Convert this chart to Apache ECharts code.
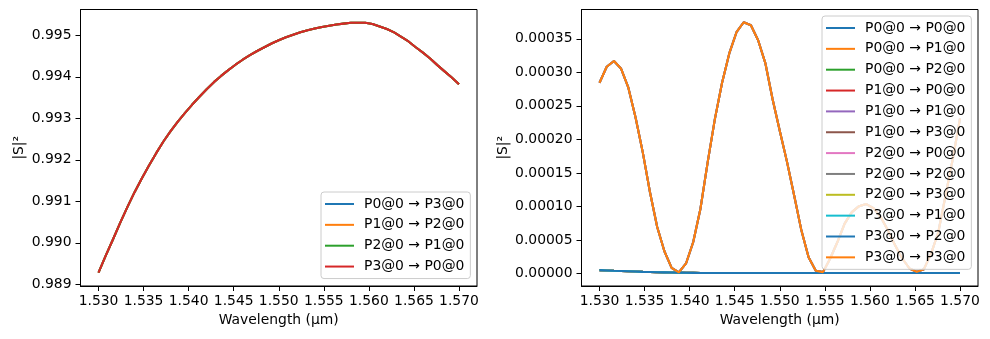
<!DOCTYPE html>
<html><head><meta charset="utf-8">
<script src="https://cdn.jsdelivr.net/npm/echarts@6/dist/echarts.min.js"></script>
<style>html,body{margin:0;padding:0;background:#fff}#c{width:990px;height:339px}</style>
</head><body><div id="c"></div><script>
const wavelengths = [1.5300,1.5308,1.5316,1.5324,1.5332,1.5340,1.5348,1.5356,1.5364,1.5372,
  1.5380,1.5388,1.5396,1.5404,1.5412,1.5420,1.5428,1.5436,1.5444,1.5452,
  1.5460,1.5468,1.5476,1.5484,1.5492,1.5500,1.5508,1.5516,1.5524,1.5532,
  1.5540,1.5548,1.5556,1.5564,1.5572,1.5580,1.5588,1.5596,1.5604,1.5612,
  1.5620,1.5628,1.5636,1.5644,1.5652,1.5660,1.5668,1.5676,1.5684,1.5692,1.5700];
const transmission = [0.98928,0.98969,0.99008,0.99048,0.99086,0.99122,0.99155,0.99186,0.99216,0.99244,
  0.99269,0.99292,0.99313,0.99333,0.99352,0.99370,0.99387,0.99402,0.99416,0.99429,
  0.99441,0.99452,0.99462,0.99471,0.99480,0.99488,0.99495,0.99501,0.99507,0.99512,
  0.99516,0.99520,0.99523,0.99526,0.99528,0.99530,0.99530,0.99530,0.99527,0.99521,
  0.99515,0.99507,0.99496,0.99485,0.99471,0.99458,0.99444,0.99428,0.99413,0.99398,0.99382];
const reflection = [0.0002845,0.0003083,0.0003168,0.0003053,0.0002771,0.0002326,0.0001806,0.0001212,0.0000692,0.0000331,
  0.0000083,0.0000015,0.0000149,0.0000469,0.0000965,0.0001657,0.0002302,0.0002845,0.0003282,0.0003598,
  0.0003747,0.0003702,0.0003479,0.0003138,0.0002603,0.0002128,0.0001668,0.0001163,0.0000643,0.0000242,
  0.0000042,0.0000020,0.0000223,0.0000469,0.0000743,0.0000915,0.0001004,0.0001035,0.0000974,0.0000841,
  0.0000643,0.0000420,0.0000223,0.0000074,0.0000024,0.0000064,0.0000297,0.0000618,0.0001163,0.0001708,0.0002310];
const crosstalk = [0.0000050,0.0000045,0.0000040,0.0000036,0.0000032,0.0000028,0.0000024,0.0000021,0.0000018,0.0000016,
  0.0000014,0.0000012,0.0000010,0.0000009,0.0000008,0.0000008,0.0000007,0.0000007,0.0000007,0.0000006,
  0.0000006,0.0000006,0.0000006,0.0000006,0.0000006,0.0000006,0.0000006,0.0000006,0.0000006,0.0000006,
  0.0000006,0.0000006,0.0000006,0.0000006,0.0000006,0.0000006,0.0000006,0.0000006,0.0000006,0.0000006,
  0.0000006,0.0000006,0.0000006,0.0000006,0.0000006,0.0000006,0.0000006,0.0000006,0.0000006,0.0000006,0.0000006];
const xTicks = [1.530,1.535,1.540,1.545,1.550,1.555,1.560,1.565,1.570];
const yTicksLeft = [0.989,0.990,0.991,0.992,0.993,0.994,0.995];
const yTicksRight = [0,0.00005,0.00010,0.00015,0.00020,0.00025,0.00030,0.00035];
const leftNames = ['P0@0 → P3@0','P1@0 → P2@0','P2@0 → P1@0','P3@0 → P0@0'];
const rightNames = ['P0@0 → P0@0','P0@0 → P1@0','P0@0 → P2@0','P1@0 → P0@0','P1@0 → P1@0','P1@0 → P3@0',
  'P2@0 → P0@0','P2@0 → P2@0','P2@0 → P3@0','P3@0 → P1@0','P3@0 → P2@0','P3@0 → P3@0'];
const rightSource = [reflection,crosstalk,crosstalk,crosstalk,reflection,crosstalk,
  crosstalk,reflection,crosstalk,crosstalk,crosstalk,reflection];
const palette = ['#1f77b4','#ff7f0e','#2ca02c','#d62728','#9467bd','#8c564b','#e377c2','#7f7f7f','#bcbd22','#17becf'];

const FONT = 'DejaVu Sans';
const FS = 13.9;
const pairs = arr => wavelengths.map((w, i) => [w, arr[i]]);

function xAxis(gi) {
  return {
    gridIndex: gi, type: 'value', min: 1.528, max: 1.572,
    axisLine: {show: true, onZero: false, lineStyle: {color: '#000', width: 1}},
    axisTick: {show: true, customValues: xTicks, length: 5, lineStyle: {color: '#000', width: 1}},
    axisLabel: {customValues: xTicks, formatter: v => v.toFixed(3), margin: 8, color: '#000', fontSize: FS, fontFamily: FONT},
    splitLine: {show: false},
    name: 'Wavelength (µm)', nameLocation: 'middle', nameGap: 27,
    nameTextStyle: {color: '#000', fontSize: FS, fontFamily: FONT}
  };
}
function yAxis(gi, min, max, ticks, dec, gap) {
  return {
    gridIndex: gi, type: 'value', min: min, max: max,
    axisLine: {show: true, onZero: false, lineStyle: {color: '#000', width: 1}},
    axisTick: {show: true, customValues: ticks, length: 5, lineStyle: {color: '#000', width: 1}},
    axisLabel: {customValues: ticks, formatter: v => v.toFixed(dec), margin: 9, color: '#000', fontSize: FS, fontFamily: FONT},
    splitLine: {show: false},
    name: '|S|²', nameLocation: 'middle', nameRotate: 90, nameGap: gap,
    nameTextStyle: {color: '#000', fontSize: FS, fontFamily: FONT}
  };
}
function legend(names, left, top) {
  return {
    data: names, orient: 'vertical', left: left, top: top,
    icon: 'rect', itemWidth: 29, itemHeight: 2, itemGap: 4.85,
    padding: [4, 6, 4, 4],
    backgroundColor: 'rgba(255,255,255,0.8)', borderColor: '#cccccc', borderWidth: 1, borderRadius: 3,
    textStyle: {fontSize: FS, fontFamily: FONT, color: '#000', lineHeight: 16, padding: [0, 0, 0, 5]}
  };
}
const series = [];
leftNames.forEach((n, k) => series.push({
  name: n, type: 'line', xAxisIndex: 0, yAxisIndex: 0, data: pairs(transmission),
  symbol: 'none', showSymbol: false, color: palette[k], lineStyle: {width: 2.08, color: palette[k]}
}));
rightNames.forEach((n, k) => series.push({
  name: n, type: 'line', xAxisIndex: 1, yAxisIndex: 1, data: pairs(rightSource[k]),
  symbol: 'none', showSymbol: false, color: palette[k % 10], lineStyle: {width: 2.08, color: palette[k % 10]}
}));

const chart = echarts.init(document.getElementById('c'), null, {renderer: 'canvas'});
chart.setOption({
  animation: false,
  backgroundColor: '#fff',
  grid: [
    {left: 80.5, top: 9.5, width: 396.5, height: 276.5, show: true, borderColor: '#000', borderWidth: 1, containLabel: false},
    {left: 581.5, top: 9.5, width: 396.5, height: 276.5, show: true, borderColor: '#000', borderWidth: 1, containLabel: false}
  ],
  xAxis: [xAxis(0), xAxis(1)],
  yAxis: [
    yAxis(0, 0.98896, 0.99562, yTicksLeft, 3, 54),
    yAxis(1, -0.0000187, 0.0003937, yTicksRight, 5, 71)
  ],
  legend: [legend(leftNames, 321, 192), legend(rightNames, 822, 16)],
  series: series
});
</script></body></html>
